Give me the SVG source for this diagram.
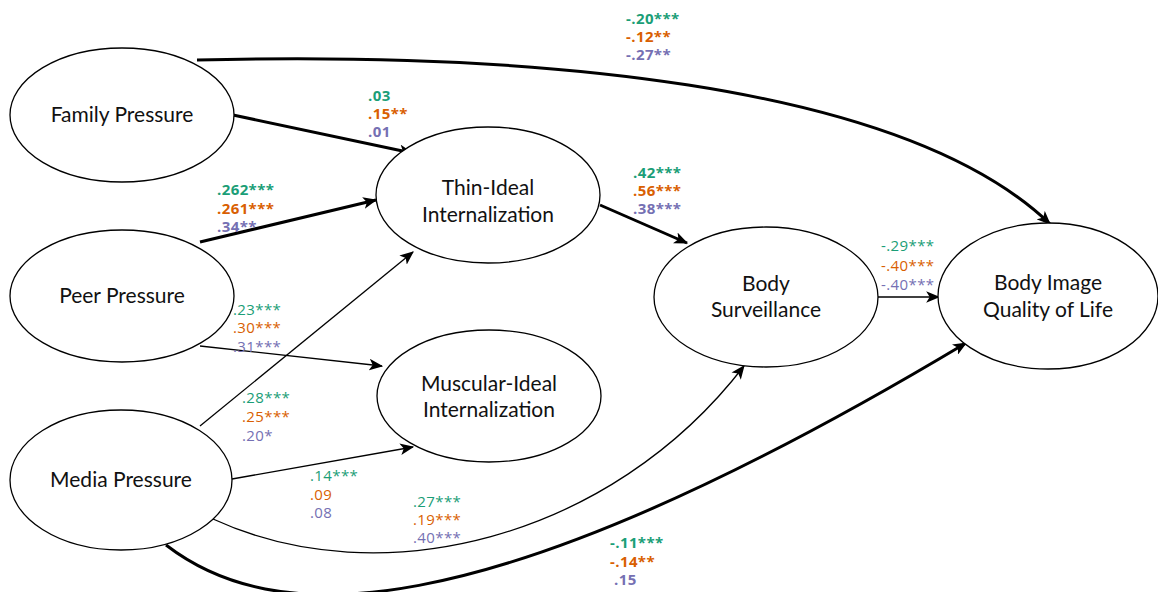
<svg xmlns="http://www.w3.org/2000/svg" width="1158" height="592" viewBox="0 0 1158 592">
  <style>
    .node ellipse { fill: #ffffff; stroke: #000000; stroke-width: 1.3; }
    .node text { font-family: Lato, "Open Sans", sans-serif; font-size: 21px; fill: #111111; text-anchor: middle; }
    .edge { fill: none; stroke: #000000; }
    .thick { stroke-width: 3; }
    .thin { stroke-width: 1.3; }
    .lab { font-family: "Open Sans", Lato, sans-serif; font-size: 15px; letter-spacing: 0.4px; }
    .b { font-weight: bold; }
    .g { fill: #1b9e77; }
    .o { fill: #d95f02; }
    .p { fill: #7570b3; }
  </style>
  <defs>
    <marker id="arrow" viewBox="0 0 12 10" refX="11" refY="5" markerWidth="14" markerHeight="12" markerUnits="userSpaceOnUse" orient="auto">
      <path d="M0,0 L12,5 L0,10 L3,5 z" fill="#000000"/>
    </marker>
  </defs>

  <!-- connectors -->
  <g id="connectors">
    <path class="edge thick" d="M197,60 C520,52 900,80 1050,224" marker-end="url(#arrow)"/>
    <path class="edge thick" d="M233,115 L412,153" marker-end="url(#arrow)"/>
    <path class="edge thick" d="M200,242 L376,200" marker-end="url(#arrow)"/>
    <path class="edge thick" d="M600,205 L687,243" marker-end="url(#arrow)"/>
    <path class="edge thin" d="M200,346 L382,366" marker-end="url(#arrow)"/>
    <path class="edge thin" d="M200,426 L413,252" marker-end="url(#arrow)"/>
    <path class="edge thin" d="M232,479 L413,447" marker-end="url(#arrow)"/>
    <path class="edge thin" d="M213,519 C380,596 610,540 744,366" marker-end="url(#arrow)"/>
    <path class="edge thick" d="M166,545 C270,625 470,640 966,343" marker-end="url(#arrow)"/>
    <path class="edge thin" d="M878,297 L939,297" marker-end="url(#arrow)"/>
  </g>

  <!-- coefficient labels -->
  <g id="labels">
    <g class="lab b"><text x="626" y="24" class="g">-.20***</text><text x="626" y="42" class="o">-.12**</text><text x="626" y="60" class="p">-.27**</text></g>
    <g class="lab b"><text x="368" y="101" class="g">.03</text><text x="368" y="119" class="o">.15**</text><text x="368" y="137" class="p">.01</text></g>
    <g class="lab b"><text x="217" y="195" class="g">.262***</text><text x="217" y="214" class="o">.261***</text><text x="217" y="232" class="p">.34**</text></g>
    <g class="lab b"><text x="633" y="178" class="g">.42***</text><text x="633" y="196" class="o">.56***</text><text x="633" y="214" class="p">.38***</text></g>
    <g class="lab"><text x="881" y="251" class="g">-.29***</text><text x="881" y="271" class="o">-.40***</text><text x="881" y="290" class="p">-.40***</text></g>
    <g class="lab"><text x="233" y="315" class="g">.23***</text><text x="233" y="333" class="o">.30***</text><text x="233" y="352" class="p">.31***</text></g>
    <g class="lab"><text x="242" y="403" class="g">.28***</text><text x="242" y="422" class="o">.25***</text><text x="242" y="441" class="p">.20*</text></g>
    <g class="lab"><text x="310" y="481" class="g">.14***</text><text x="310" y="500" class="o">.09</text><text x="310" y="518" class="p">.08</text></g>
    <g class="lab"><text x="413" y="507" class="g">.27***</text><text x="413" y="525" class="o">.19***</text><text x="413" y="543" class="p">.40***</text></g>
    <g class="lab b"><text x="610" y="548" class="g">-.11***</text><text x="610" y="567" class="o">-.14**</text><text x="614" y="585" class="p">.15</text></g>
  </g>

  <!-- nodes -->
  <g id="family" class="node">
    <ellipse cx="122" cy="115" rx="112" ry="67"/>
    <text x="122" y="122">Family Pressure</text>
  </g>
  <g id="peer" class="node">
    <ellipse cx="122" cy="296" rx="112" ry="66"/>
    <text x="122" y="303">Peer Pressure</text>
  </g>
  <g id="media" class="node">
    <ellipse cx="121" cy="480" rx="111" ry="70"/>
    <text x="121" y="487">Media Pressure</text>
  </g>
  <g id="thin" class="node">
    <ellipse cx="488" cy="195" rx="112" ry="68"/>
    <text x="488" y="195">Thin-Ideal</text>
    <text x="488" y="222">Internalization</text>
  </g>
  <g id="muscular" class="node">
    <ellipse cx="489" cy="396" rx="112" ry="66"/>
    <text x="489" y="391">Muscular-Ideal</text>
    <text x="489" y="417">Internalization</text>
  </g>
  <g id="surveillance" class="node">
    <ellipse cx="766" cy="297" rx="112" ry="70"/>
    <text x="766" y="291">Body</text>
    <text x="766" y="317">Surveillance</text>
  </g>
  <g id="qol" class="node">
    <ellipse cx="1048" cy="296" rx="110" ry="73"/>
    <text x="1048" y="290">Body Image</text>
    <text x="1048" y="317">Quality of Life</text>
  </g>
</svg>
